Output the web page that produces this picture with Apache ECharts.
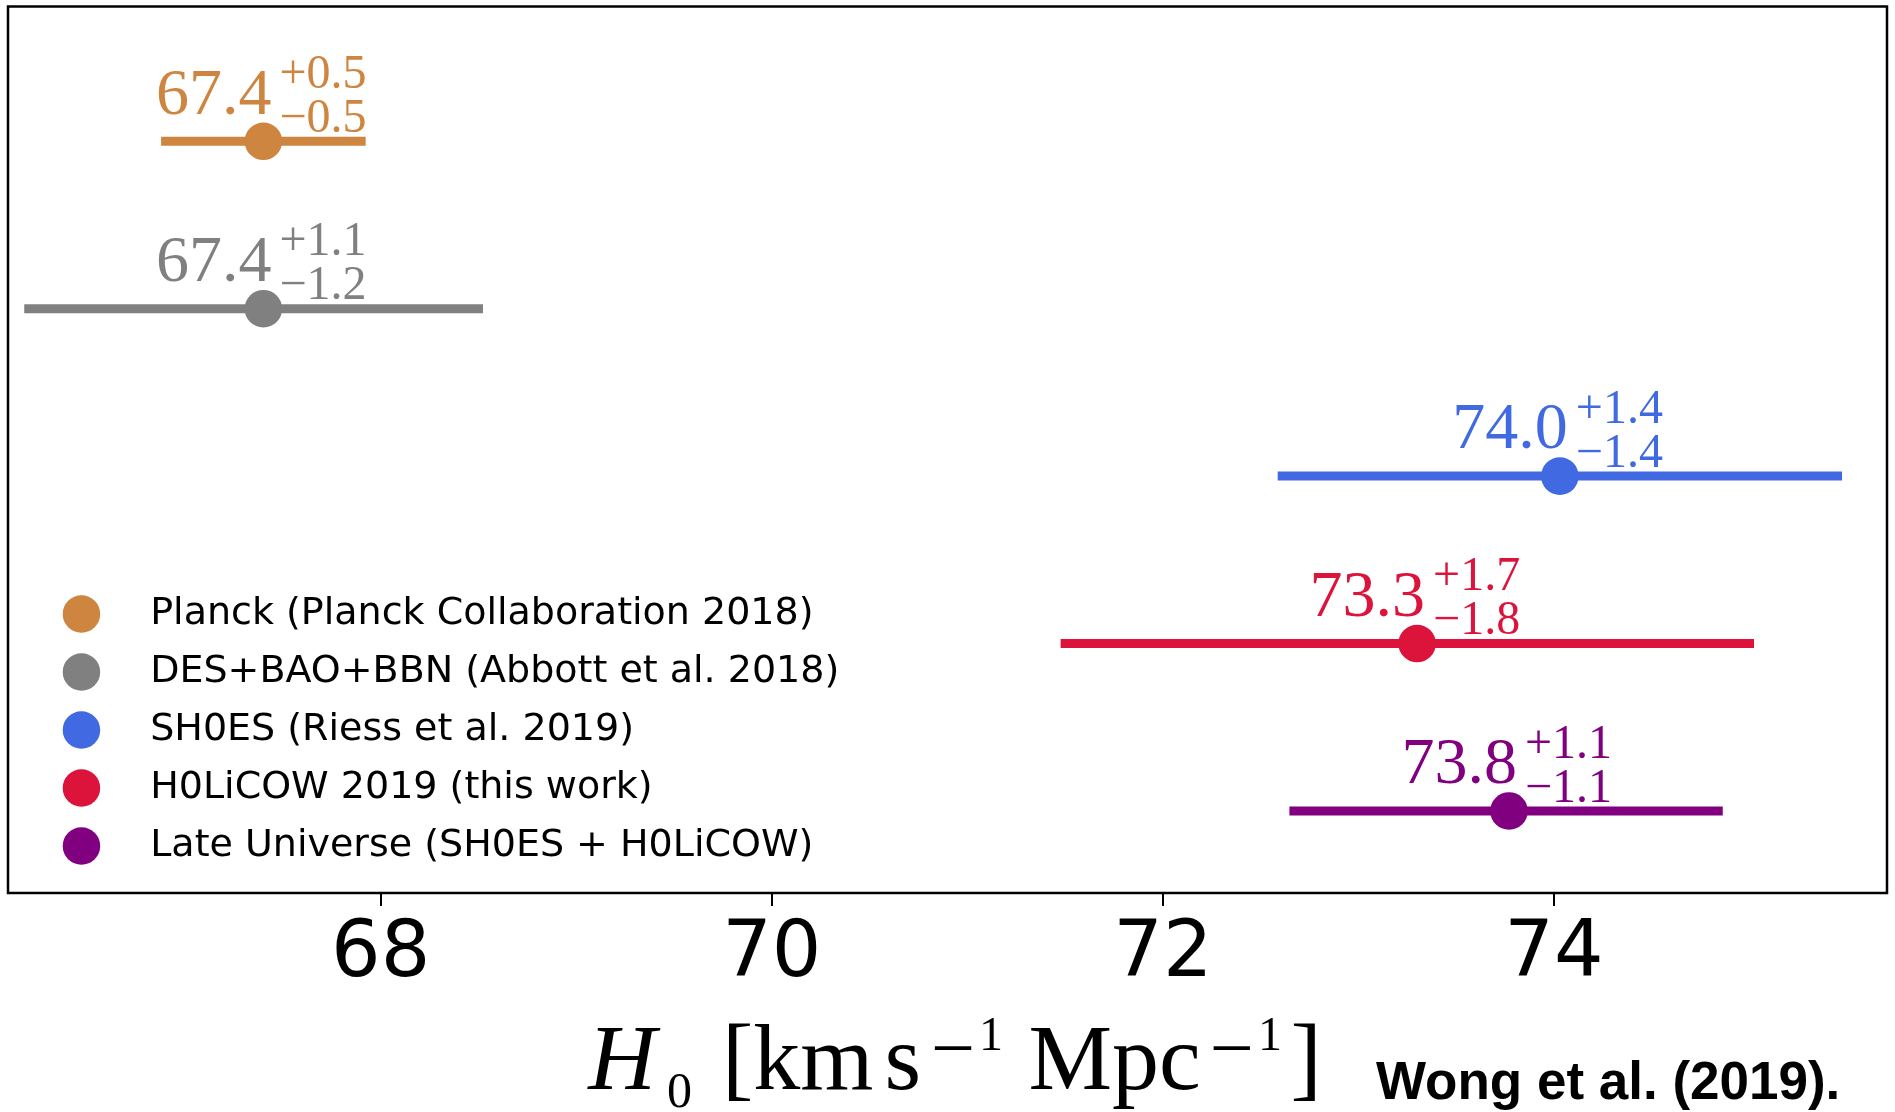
<!DOCTYPE html>
<html>
<head>
<meta charset="utf-8">
<script src="https://cdn.jsdelivr.net/npm/echarts@6/dist/echarts.min.js"></script>
<style>
html,body{margin:0;padding:0;background:#fff;}
#chart{width:1895px;height:1112px;}
</style>
</head>
<body>
<div id="chart"></div>
<script>
// ---- data ----
const names = [
  'Planck (Planck Collaboration 2018)',
  'DES+BAO+BBN (Abbott et al. 2018)',
  'SH0ES (Riess et al. 2019)',
  'H0LiCOW 2019 (this work)',
  'Late Universe (SH0ES + H0LiCOW)'
];
const h0Values = [67.4, 67.4, 74.03, 73.3, 73.77];
const errPlus  = [0.5, 1.1, 1.42, 1.7, 1.07];
const errMinus = [0.5, 1.2, 1.42, 1.8, 1.10];
const rowPos   = [4, 3, 2, 1, 0];
const xTicks   = [68, 70, 72, 74];
const colors   = ['#CD853F', '#808080', '#4169E1', '#DC143C', '#800080'];

const mathFont = '"Liberation Serif", "DejaVu Serif", serif';

function renderItem(params, api) {
  const x = api.value(0), y = api.value(1), plus = api.value(2), minus = api.value(3);
  const p = api.coord([x, y]);
  const pL = api.coord([x - minus, y]);
  const pR = api.coord([x + plus, y]);
  const color = api.visual('color');
  return {
    type: 'group',
    children: [
      { type: 'line', shape: { x1: pL[0], y1: pL[1], x2: pR[0], y2: pR[1] },
        style: { stroke: color, lineWidth: 9, lineCap: 'square' } },
      { type: 'circle', shape: { cx: p[0], cy: p[1], r: 18.8 }, style: { fill: color } },
      { type: 'text', x: p[0] + 8, y: p[1] - 45,
        style: { text: x.toFixed(1), fill: color, fontSize: 66, fontFamily: mathFont,
                 align: 'right', verticalAlign: 'middle' } },
      { type: 'text', x: p[0] + 16, y: p[1] - 66,
        style: { text: '+' + plus.toFixed(1), fill: color, fontSize: 48, fontFamily: mathFont,
                 align: 'left', verticalAlign: 'middle' } },
      { type: 'text', x: p[0] + 16, y: p[1] - 22,
        style: { text: '\u2212' + minus.toFixed(1), fill: color, fontSize: 48, fontFamily: mathFont,
                 align: 'left', verticalAlign: 'middle' } }
    ]
  };
}

const series = names.map((n, i) => ({
  type: 'custom',
  name: n,
  renderItem: renderItem,
  itemStyle: { color: colors[i] },
  encode: { x: 0, y: 1 },
  data: [[h0Values[i], rowPos[i], errPlus[i], errMinus[i]]],
  clip: false
}));

const big = { fontFamily: mathFont, fontSize: 94, lineHeight: 94, verticalAlign: 'top', color: '#000' };
const supS = { fontFamily: mathFont, fontSize: 48, lineHeight: 48, verticalAlign: 'top', color: '#000' };
const minusS = { fontFamily: mathFont, fontSize: 78, lineHeight: 40, verticalAlign: 'top', color: '#000' };

const chart = echarts.init(document.getElementById('chart'));
chart.setOption({
  animation: false,
  backgroundColor: '#fff',
  title: {
    text: 'Wong et al. (2019).',
    left: 1376, top: 1058, padding: 0,
    textStyle: { fontFamily: '"Liberation Sans", Arial, sans-serif', fontWeight: 'bold', fontSize: 53, color: '#000' }
  },
  legend: {
    orient: 'vertical',
    left: 62.7, top: 595,
    padding: 0,
    icon: 'circle',
    itemWidth: 37.5, itemHeight: 37.5,
    itemGap: 20,
    selectedMode: false,
    data: names,
    textStyle: { fontFamily: '"DejaVu Sans", sans-serif', fontSize: 38, lineHeight: 37.5, color: '#000', padding: [0, 0, 0, 45] }
  },
  grid: {
    left: 8, top: 6.5, right: 8, bottom: 219,
    outerBoundsMode: 'none',
    containLabel: false,
    show: true, borderColor: '#000', borderWidth: 2.5, backgroundColor: 'transparent'
  },
  xAxis: {
    type: 'value',
    min: 66.094, max: 75.703,
    splitLine: { show: false },
    axisLine: { show: false, onZero: false },
    axisTick: { show: true, customValues: xTicks, length: 13, lineStyle: { color: '#000', width: 2 } },
    axisLabel: { customValues: xTicks, fontSize: 78, margin: 24, color: '#000', fontFamily: '"DejaVu Sans", sans-serif' },
    name: '{it|H}{sub|0}{br|[}{m|km}{s|s}{sm|\u2212}{s1a|1}{M|Mpc}{sm2|\u2212}{s1b|1}{rb|]}',
    nameLocation: 'middle',
    nameGap: 120,
    nameTextStyle: {
      rich: {
        it:  Object.assign({}, big, { fontStyle: 'italic', padding: [4, 0, 0, 15] }),
        sub: { fontFamily: mathFont, fontSize: 50, lineHeight: 50, verticalAlign: 'top', padding: [56, 0, 0, 11], color: '#000' },
        br:  Object.assign({}, big, { padding: [4, 0, 0, 30] }),
        m:   Object.assign({}, big, { padding: [4, 0, 0, 0] }),
        s:   Object.assign({}, big, { padding: [4, 0, 0, 11] }),
        sm:  Object.assign({}, minusS, { padding: [1.7, 0, 0, 10] }),
        sm2: Object.assign({}, minusS, { padding: [1.7, 0, 0, 9] }),
        s1a: Object.assign({}, supS, { padding: [0, 0, 0, 4] }),
        s1b: Object.assign({}, supS, { padding: [0, 0, 0, 4.2] }),
        M:   Object.assign({}, big, { padding: [4, 0, 0, 25.5] }),
        rb:  Object.assign({}, big, { padding: [4, 0, 0, 8.5] })
      }
    }
  },
  yAxis: {
    type: 'value',
    min: -0.49, max: 4.805,
    show: false
  },
  series: series
});
</script>
</body>
</html>
